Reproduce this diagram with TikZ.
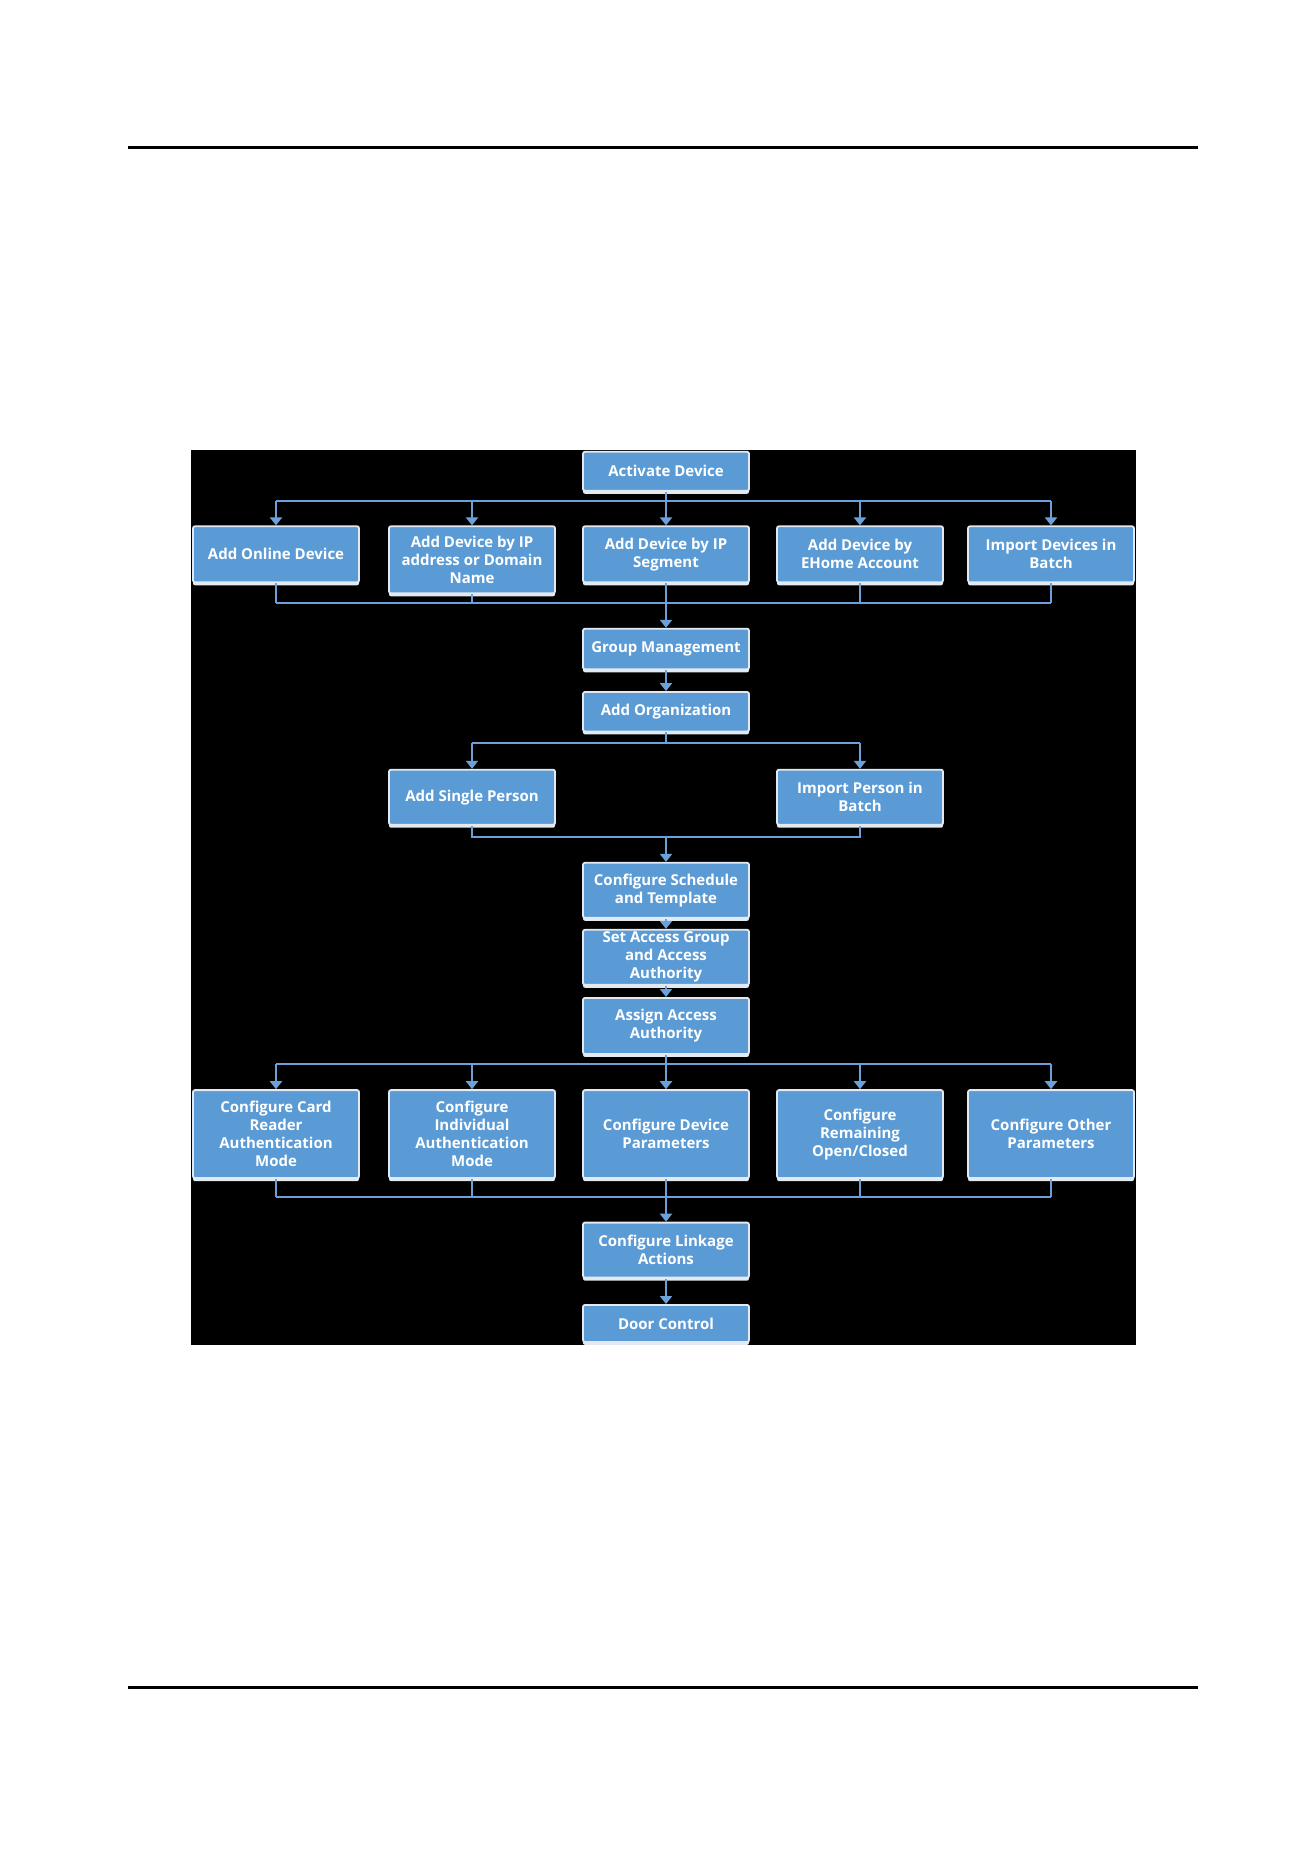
\documentclass[tikz,border=0pt]{standalone}
\usepackage{fontspec}
\setmainfont{Open Sans}
\usetikzlibrary{positioning,shadows,arrows.meta}
\definecolor{boxblue}{RGB}{91,155,213}
\definecolor{lineblue}{RGB}{108,160,216}
\definecolor{boxedge}{RGB}{226,233,240}
\tikzset{
  stepbox/.style={
    rectangle,
    rounded corners=2pt,
    fill=boxblue,
    draw=boxedge,
    line width=1.8pt,
    text=white,
    font=\bfseries\fontsize{15}{18}\selectfont,
    align=center,
    minimum width=166pt,
    inner sep=2pt,
    drop shadow={fill=boxedge, opacity=1, shadow xshift=0pt, shadow yshift=-3pt}
  },
  flow/.style={draw=lineblue, line width=2.2pt},
  flowarrow/.style={flow, -{Triangle[width=12pt,length=8pt]}}
}

\begin{document}
\begin{tikzpicture}[x=1pt,y=1pt]
  \useasboundingbox (0,0) rectangle (1313,-1873);
  \fill[white] (0,0) rectangle (1313,-1873);
  % page rules and black panel
  \fill[black] (128,-145.5) rectangle (1198,-148.5);
  \fill[black] (128,-1685.5) rectangle (1198,-1688.5);
  \fill[black] (191,-450) rectangle (1136,-1345);

  \node [stepbox, minimum height=39pt] (act) at (666,-471.3) {Activate Device};
  \node [stepbox, minimum height=56pt, on grid, below=83pt of act] (ipseg) {Add Device by IP\\Segment};
  \node [stepbox, minimum height=56pt, on grid, left=390pt of ipseg] (online) {Add Online Device};
  \node [stepbox, minimum height=67pt, on grid, left=194pt of ipseg, yshift=-5.5pt] (ipaddr) {Add Device by IP\\address or Domain\\Name};
  \node [stepbox, minimum height=56pt, on grid, right=194pt of ipseg] (ehome) {Add Device by\\EHome Account};
  \node [stepbox, minimum height=56pt, on grid, right=385pt of ipseg] (batch) {Import Devices in\\Batch};

  \node [stepbox, minimum height=40.6pt, on grid, below=94.7pt of ipseg] (grp) {Group Management};
  \node [stepbox, minimum height=39.4pt, on grid, below=62.7pt of grp] (org) {Add Organization};
  \node [stepbox, minimum height=55pt, on grid, below left=85.5pt and 194pt of org] (single) {Add Single Person};
  \node [stepbox, minimum height=55pt, on grid, below right=85.5pt and 194pt of org] (import) {Import Person in\\Batch};

  \node [stepbox, minimum height=55pt, on grid, below=178.6pt of org] (sched) {Configure Schedule\\and Template};
  \node [stepbox, minimum height=55pt, on grid, below=67pt of sched] (setacc) {Set Access Group\\and Access\\Authority};
  \node [stepbox, minimum height=56pt, on grid, below=68.6pt of setacc] (assign) {Assign Access\\Authority};

  \node [stepbox, minimum height=88pt, on grid, below=108.2pt of assign] (cfgdev) {Configure Device\\Parameters};
  \node [stepbox, minimum height=88pt, on grid, left=390pt of cfgdev] (cfgcard) {Configure Card\\Reader\\Authentication\\Mode};
  \node [stepbox, minimum height=88pt, on grid, left=194pt of cfgdev] (cfgind) {Configure\\Individual\\Authentication\\Mode};
  \node [stepbox, minimum height=88pt, on grid, right=194pt of cfgdev] (cfgopen) {Configure\\Remaining\\Open/Closed};
  \node [stepbox, minimum height=88pt, on grid, right=385pt of cfgdev] (cfgother) {Configure Other\\Parameters};

  \node [stepbox, minimum height=55pt, on grid, below=116pt of cfgdev] (link) {Configure Linkage\\Actions};
  \node [stepbox, minimum height=37pt, on grid, below=73.3pt of link] (door) {Door Control};

  % junction points
  \coordinate [below=9.5pt of act.south] (fanA);
  \coordinate [below=20pt of ipseg.south] (mergeA);
  \coordinate [below=11pt of single.south -| org.south] (mergeB);
  \coordinate [below=11pt of org.south] (splitA);
  \coordinate [below=9.4pt of assign.south] (fanB);
  \coordinate [below=18pt of cfgdev.south] (mergeC);

  % device adding
  \draw [flow] (act) to (fanA);
  \draw [flow] (online.north |- fanA) to (batch.north |- fanA);
  \foreach \n in {online,ipaddr,ipseg,ehome,batch}
    \draw [flowarrow] (\n.north |- fanA) to (\n.north);
  \draw [flow] (online.south |- mergeA) to (batch.south |- mergeA);
  \foreach \n in {online,ipaddr,ehome,batch}
    \draw [flow] (\n.south) to (\n.south |- mergeA);
  \draw [flowarrow] (ipseg) to (grp);
  \draw [flowarrow] (grp) to (org);

  % persons
  \draw [flow] (org) to (splitA);
  \draw [flow] (single.north |- splitA) to (import.north |- splitA);
  \draw [flowarrow] (single.north |- splitA) to (single.north);
  \draw [flowarrow] (import.north |- splitA) to (import.north);
  \draw [flow] (single.south) to (single.south |- mergeB) to (import.south |- mergeB) to (import.south);
  \draw [flowarrow] (mergeB) to (sched.north);
  \draw [flowarrow] (sched) to (setacc);
  \draw [flowarrow] (setacc) to (assign);

  % configuration
  \draw [flow] (assign) to (fanB);
  \draw [flow] (cfgcard.north |- fanB) to (cfgother.north |- fanB);
  \foreach \n in {cfgcard,cfgind,cfgdev,cfgopen,cfgother}
    \draw [flowarrow] (\n.north |- fanB) to (\n.north);
  \draw [flow] (cfgcard.south |- mergeC) to (cfgother.south |- mergeC);
  \foreach \n in {cfgcard,cfgind,cfgopen,cfgother}
    \draw [flow] (\n.south) to (\n.south |- mergeC);
  \draw [flowarrow] (cfgdev) to (link);
  \draw [flowarrow] (link) to (door);
\end{tikzpicture}
\end{document}
